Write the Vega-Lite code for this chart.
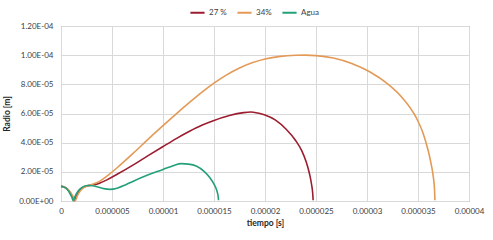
{
  "$schema": "https://vega.github.io/schema/vega-lite/v6.json",
  "autosize": {"type": "none"},
  "padding": {"left": 61, "top": 26, "right": 24, "bottom": 39},
  "width": 408,
  "height": 175,
  "background": "white",
  "config": {
    "view": {"stroke": "#8c8c8c", "strokeWidth": 1},
    "font": "Lato",
    "axis": {"labelFont": "Lato", "titleFont": "Lato", "labelColor": "#404040", "titleColor": "#262626"}
  },
  "data": {"values": [
    {"s": "27 %", "t": 0, "r": 10.0e-6},
    {"s": "27 %", "t": 0.3e-6, "r": 9.6e-6},
    {"s": "27 %", "t": 0.6e-6, "r": 8.3e-6},
    {"s": "27 %", "t": 0.9e-6, "r": 5.8e-6},
    {"s": "27 %", "t": 1.1e-6, "r": 3.2e-6},
    {"s": "27 %", "t": 1.3e-6, "r": 0.2e-6},
    {"s": "27 %", "t": 1.5e-6, "r": 3.5e-6},
    {"s": "27 %", "t": 1.8e-6, "r": 7.0e-6},
    {"s": "27 %", "t": 2.2e-6, "r": 9.5e-6},
    {"s": "27 %", "t": 2.8e-6, "r": 10.7e-6},
    {"s": "27 %", "t": 3.4e-6, "r": 11.3e-6},
    {"s": "27 %", "t": 3.82e-6, "r": 12.3e-6},
    {"s": "27 %", "t": 4.5e-6, "r": 14.5e-6},
    {"s": "27 %", "t": 5.5e-6, "r": 18.3e-6},
    {"s": "27 %", "t": 7.09e-6, "r": 24.8e-6},
    {"s": "27 %", "t": 8.5e-6, "r": 30.9e-6},
    {"s": "27 %", "t": 9.97e-6, "r": 37.2e-6},
    {"s": "27 %", "t": 11.3e-6, "r": 42.8e-6},
    {"s": "27 %", "t": 12.6e-6, "r": 47.8e-6},
    {"s": "27 %", "t": 13.8e-6, "r": 51.9e-6},
    {"s": "27 %", "t": 15.0e-6, "r": 55.2e-6},
    {"s": "27 %", "t": 16.5e-6, "r": 58.6e-6},
    {"s": "27 %", "t": 17.9e-6, "r": 60.6e-6},
    {"s": "27 %", "t": 18.6e-6, "r": 61.0e-6},
    {"s": "27 %", "t": 19.3e-6, "r": 60.3e-6},
    {"s": "27 %", "t": 20.0e-6, "r": 59.0e-6},
    {"s": "27 %", "t": 21.0e-6, "r": 55.6e-6},
    {"s": "27 %", "t": 22.1e-6, "r": 49.0e-6},
    {"s": "27 %", "t": 23.0e-6, "r": 41.5e-6},
    {"s": "27 %", "t": 23.6e-6, "r": 34.5e-6},
    {"s": "27 %", "t": 24.05e-6, "r": 26.5e-6},
    {"s": "27 %", "t": 24.35e-6, "r": 19.0e-6},
    {"s": "27 %", "t": 24.55e-6, "r": 12.0e-6},
    {"s": "27 %", "t": 24.68e-6, "r": 5.0e-6},
    {"s": "27 %", "t": 24.72e-6, "r": 0.5e-6},

    {"s": "34%", "t": 0, "r": 10.0e-6},
    {"s": "34%", "t": 0.3e-6, "r": 9.6e-6},
    {"s": "34%", "t": 0.6e-6, "r": 8.4e-6},
    {"s": "34%", "t": 0.9e-6, "r": 6.2e-6},
    {"s": "34%", "t": 1.15e-6, "r": 3.5e-6},
    {"s": "34%", "t": 1.4e-6, "r": 0.2e-6},
    {"s": "34%", "t": 1.6e-6, "r": 3.5e-6},
    {"s": "34%", "t": 1.9e-6, "r": 7.0e-6},
    {"s": "34%", "t": 2.3e-6, "r": 9.5e-6},
    {"s": "34%", "t": 2.8e-6, "r": 10.8e-6},
    {"s": "34%", "t": 3.3e-6, "r": 12.0e-6},
    {"s": "34%", "t": 3.82e-6, "r": 13.6e-6},
    {"s": "34%", "t": 4.5e-6, "r": 17.0e-6},
    {"s": "34%", "t": 5.5e-6, "r": 22.8e-6},
    {"s": "34%", "t": 7.09e-6, "r": 32.8e-6},
    {"s": "34%", "t": 8.5e-6, "r": 42.1e-6},
    {"s": "34%", "t": 9.97e-6, "r": 51.5e-6},
    {"s": "34%", "t": 11.3e-6, "r": 59.8e-6},
    {"s": "34%", "t": 12.6e-6, "r": 67.6e-6},
    {"s": "34%", "t": 13.8e-6, "r": 74.5e-6},
    {"s": "34%", "t": 15.0e-6, "r": 80.8e-6},
    {"s": "34%", "t": 16.2e-6, "r": 86.3e-6},
    {"s": "34%", "t": 17.5e-6, "r": 91.2e-6},
    {"s": "34%", "t": 18.8e-6, "r": 94.9e-6},
    {"s": "34%", "t": 20.0e-6, "r": 97.4e-6},
    {"s": "34%", "t": 21.5e-6, "r": 99.2e-6},
    {"s": "34%", "t": 23.0e-6, "r": 99.9e-6},
    {"s": "34%", "t": 24.0e-6, "r": 100.0e-6},
    {"s": "34%", "t": 25.0e-6, "r": 99.7e-6},
    {"s": "34%", "t": 26.7e-6, "r": 98.0e-6},
    {"s": "34%", "t": 28.5e-6, "r": 94.3e-6},
    {"s": "34%", "t": 30.3e-6, "r": 88.5e-6},
    {"s": "34%", "t": 32.0e-6, "r": 80.5e-6},
    {"s": "34%", "t": 33.5e-6, "r": 70.5e-6},
    {"s": "34%", "t": 34.8e-6, "r": 57.5e-6},
    {"s": "34%", "t": 35.5e-6, "r": 46.5e-6},
    {"s": "34%", "t": 36.0e-6, "r": 34.5e-6},
    {"s": "34%", "t": 36.3e-6, "r": 25.0e-6},
    {"s": "34%", "t": 36.5e-6, "r": 16.5e-6},
    {"s": "34%", "t": 36.62e-6, "r": 8.0e-6},
    {"s": "34%", "t": 36.66e-6, "r": 0.5e-6},

    {"s": "Agua", "t": 0, "r": 10.0e-6},
    {"s": "Agua", "t": 0.3e-6, "r": 9.5e-6},
    {"s": "Agua", "t": 0.6e-6, "r": 8.0e-6},
    {"s": "Agua", "t": 0.85e-6, "r": 5.5e-6},
    {"s": "Agua", "t": 1.05e-6, "r": 2.8e-6},
    {"s": "Agua", "t": 1.2e-6, "r": 0.2e-6},
    {"s": "Agua", "t": 1.4e-6, "r": 3.5e-6},
    {"s": "Agua", "t": 1.7e-6, "r": 7.0e-6},
    {"s": "Agua", "t": 2.1e-6, "r": 9.5e-6},
    {"s": "Agua", "t": 2.6e-6, "r": 10.6e-6},
    {"s": "Agua", "t": 3.1e-6, "r": 10.5e-6},
    {"s": "Agua", "t": 3.6e-6, "r": 9.6e-6},
    {"s": "Agua", "t": 4.2e-6, "r": 8.5e-6},
    {"s": "Agua", "t": 4.8e-6, "r": 8.0e-6},
    {"s": "Agua", "t": 5.5e-6, "r": 8.8e-6},
    {"s": "Agua", "t": 6.3e-6, "r": 11.0e-6},
    {"s": "Agua", "t": 7.09e-6, "r": 13.6e-6},
    {"s": "Agua", "t": 8.5e-6, "r": 17.8e-6},
    {"s": "Agua", "t": 10.0e-6, "r": 21.6e-6},
    {"s": "Agua", "t": 11.0e-6, "r": 24.2e-6},
    {"s": "Agua", "t": 11.8e-6, "r": 25.6e-6},
    {"s": "Agua", "t": 12.5e-6, "r": 25.3e-6},
    {"s": "Agua", "t": 13.3e-6, "r": 23.8e-6},
    {"s": "Agua", "t": 14.0e-6, "r": 20.5e-6},
    {"s": "Agua", "t": 14.6e-6, "r": 15.9e-6},
    {"s": "Agua", "t": 15.0e-6, "r": 11.5e-6},
    {"s": "Agua", "t": 15.26e-6, "r": 7.5e-6},
    {"s": "Agua", "t": 15.4e-6, "r": 3.5e-6},
    {"s": "Agua", "t": 15.45e-6, "r": 0.5e-6}
  ]},
  "mark": {"type": "line", "interpolate": "monotone", "strokeWidth": 1.6},
  "encoding": {
    "x": {
      "field": "t", "type": "quantitative",
      "scale": {"domain": [0, 0.00004], "nice": false},
      "axis": {
        "title": "tiempo [s]", "titleFontSize": 8.5, "titleFontWeight": "bold", "titlePadding": 3,
        "values": [0, 0.000005, 0.00001, 0.000015, 0.00002, 0.000025, 0.00003, 0.000035, 0.00004],
        "format": "~f", "labelFontSize": 8, "labelPadding": 6,
        "ticks": false, "domain": false, "grid": true, "gridColor": "#d9d9d9",
        "labelFlush": false
      }
    },
    "y": {
      "field": "r", "type": "quantitative",
      "scale": {"domain": [0, 0.00012], "nice": false},
      "axis": {
        "title": "Radio [m]", "titleFontSize": 8.5, "titleFontWeight": "bold", "titlePadding": 7,
        "values": [0, 0.00002, 0.00004, 0.00006, 0.00008, 0.0001, 0.00012],
        "labelExpr": "datum.value == 0 ? '0.00E+00' : format(datum.value / pow(10, floor(log(datum.value) / LN10 + 1e-9)), '.2f') + 'E-0' + (-floor(log(datum.value) / LN10 + 1e-9))",
        "labelFontSize": 8, "labelPadding": 8,
        "ticks": false, "domain": false, "grid": true, "gridColor": "#d9d9d9",
        "labelFlush": false
      }
    },
    "color": {
      "field": "s", "type": "nominal",
      "scale": {"domain": ["27 %", "34%", "Agua"], "range": ["#9c1c2f", "#e39a57", "#23a07a"]},
      "legend": {
        "title": null, "orient": "none", "direction": "horizontal",
        "legendX": 128, "legendY": -22,
        "symbolType": "stroke", "symbolSize": 200, "symbolStrokeWidth": 2,
        "labelFontSize": 8, "labelColor": "#404040", "columnPadding": 6, "labelOffset": 3
      }
    }
  }
}
